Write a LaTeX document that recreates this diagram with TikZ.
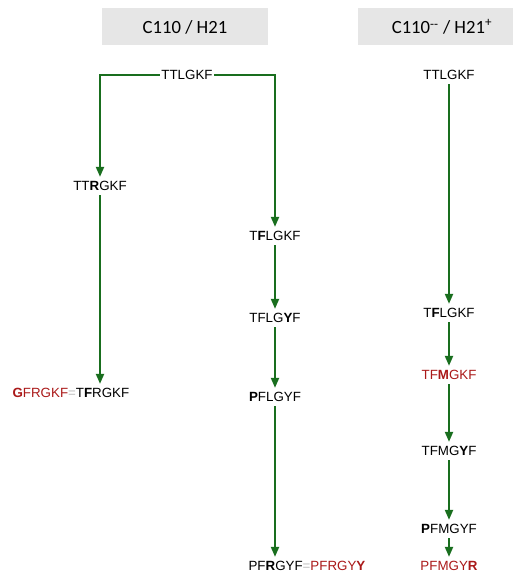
\documentclass[tikz,border=0pt]{standalone}
\usepackage{fontspec}
\setmainfont{Liberation Sans}
\newfontfamily\hdrfont{Carlito}
\usetikzlibrary{arrows.meta}
\definecolor{arrgreen}{RGB}{25,110,30}
\definecolor{darkred}{RGB}{170,25,25}
\definecolor{hdrgray}{RGB}{230,230,230}
\definecolor{eqgray}{RGB}{190,190,190}
\tikzset{
  seq/.style={font=\fontsize{10}{12}\selectfont, inner xsep=1pt, inner ysep=3pt, text height=7.3pt, text depth=0pt},
  hdr/.style={fill=hdrgray, draw=none},
  hdrtext/.style={font=\hdrfont\fontsize{14}{16}\selectfont, inner sep=0pt},
  conn/.style={draw=arrgreen, line width=1.5pt},
  arr/.style={conn, -{Triangle[width=6pt,length=7.5pt]}},
}
\newcommand{\rd}[1]{\textcolor{darkred}{#1}}
\newcommand{\eqs}{\textcolor{eqgray}{=}}
\begin{document}
\begin{tikzpicture}[x=0.75pt,y=-0.75pt]
\useasboundingbox (0,0) rectangle (515,573);
% headers
\path[hdr] (102,8) rectangle (268,45);
\node[hdrtext] (h1) at (185,27) {C110 / H21};
\path[hdr] (358,8) rectangle (513,45);
\node[hdrtext] (h2) at (442,27) {C110\textsuperscript{\raisebox{-0.3ex}{--}} / H21\textsuperscript{+}};
% left tree
\node[seq] (t0) at (187,75) {TTLGKF};
\node[seq] (a1) at (100,186) {TT\textbf{R}GKF};
\node[seq, anchor=west] (a2) at (11,393) {\rd{\textbf{G}FRGKF}\eqs T\textbf{F}RGKF};
\node[seq] (b1) at (275,236) {T\textbf{F}LGKF};
\node[seq] (b2) at (275,318) {TFLG\textbf{Y}F};
\node[seq] (b3) at (275,397) {\textbf{P}FLGYF};
\node[seq, anchor=west] (b4) at (247,566) {PF\textbf{R}GYF\eqs\rd{PFRGY\textbf{Y}}};
% right column
\node[seq] (c0) at (449,75) {TTLGKF};
\node[seq] (c1) at (449,313) {T\textbf{F}LGKF};
\node[seq] (c2) at (449,375) {\rd{TF\textbf{M}GKF}};
\node[seq] (c3) at (449,451) {TFMG\textbf{Y}F};
\node[seq] (c4) at (449,529) {\textbf{P}FMGYF};
\node[seq] (c5) at (449,566) {\rd{PFMGY\textbf{R}}};
% connectors
\draw[arr] (t0.west) -| (a1.north);
\draw[arr] (t0.east) -| (b1.north);
\draw[arr] (a1.south) -- (a1.south |- a2.north);
\draw[arr] (b1) -- (b2);
\draw[arr] (b2) -- (b3);
\draw[arr] (b3.south) -- (b3.south |- b4.north);
\draw[arr] (c0) -- (c1);
\draw[arr] (c1) -- (c2);
\draw[arr] (c2) -- (c3);
\draw[arr] (c3) -- (c4);
\draw[arr] (c4) -- (c5);
\end{tikzpicture}
\end{document}
